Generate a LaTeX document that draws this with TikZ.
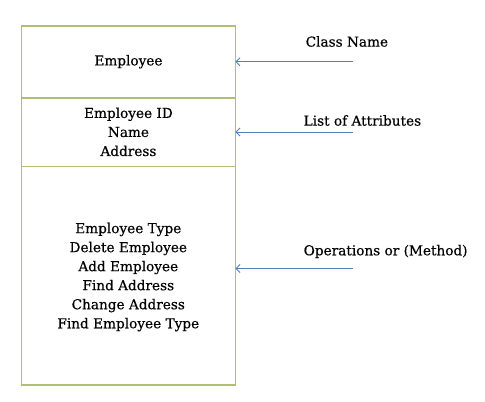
\documentclass[tikz,border=0pt]{standalone}
\usepackage{fontspec}
\setmainfont[FakeBold=0.4]{DejaVu Serif}
\usetikzlibrary{arrows.meta}
\definecolor{boxc}{RGB}{175,192,115}
\definecolor{arrc}{RGB}{79,129,189}
\begin{document}
\begin{tikzpicture}[x=1bp,y=-1bp,
  sect/.style={minimum width=213.5bp,inner sep=0pt,anchor=north west,align=center,font=\fontsize{13.7}{19.1}\selectfont},
  frame/.style={draw=boxc,line width=1.6bp},
  lbl/.style={font=\fontsize{13.7}{16}\selectfont,anchor=west,inner sep=0pt},
  pointer/.style={draw=arrc,line width=0.9bp,-{Straight Barb[length=4bp,width=8bp]}}]
\useasboundingbox (0,0) rectangle (485,401);
\node[sect,minimum height=71.6bp] (s1) at (21.5,25.7) {Employee};
\node[sect,minimum height=68.7bp] (s2) at (21.5,97.3) {Employee ID\\Name\\Address};
\node[sect,minimum height=218.3bp] (s3) at (21.5,166) {};
\draw[frame] (s1.north west) rectangle (s3.south east);
\draw[frame] (s1.south west) -- (s1.south east);
\draw[frame] (s2.south west) -- (s2.south east);
\node[align=center,inner sep=0pt,font=\fontsize{13.7}{19.1}\selectfont] (ops) at (128.3,277) {Employee Type\\Delete Employee\\Add Employee\\Find Address\\Change Address\\Find Employee Type};
\node[lbl] (l1) at (305.5,41.5) {Class Name};
\node[lbl] (l2) at (303.5,120.5) {List of Attributes};
\node[lbl] (l3) at (303.5,251.5) {Operations or (Method)};
\coordinate (a1) at (353,61.7);
\coordinate (a2) at (353,132);
\coordinate (a3) at (353,268.5);
\draw[pointer] (a1) -- (s1.east |- a1);
\draw[pointer] (a2) -- (s2.east |- a2);
\draw[pointer] (a3) -- (s3.east |- a3);
\end{tikzpicture}
\end{document}
